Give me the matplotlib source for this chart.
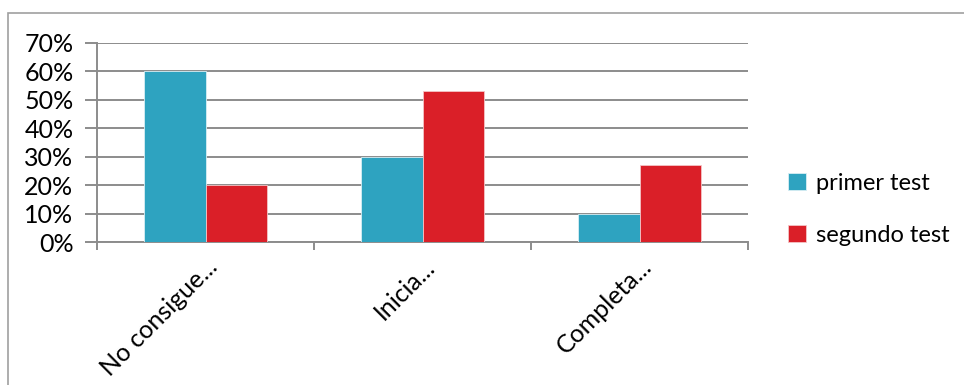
import numpy as np
import matplotlib.pyplot as plt
from matplotlib.patches import Rectangle
from matplotlib.ticker import PercentFormatter

categorias = ["No consigue...", "Inicia...", "Completa..."]
primer_test = [60, 30, 10]
segundo_test = [20, 53, 27]

plt.rcParams["font.family"] = ["Lato", "DejaVu Sans"]

fig = plt.figure(figsize=(9.64, 3.85), dpi=100)
ax = fig.add_axes([97 / 964, 1 - 242 / 385, (748 - 97) / 964, (242 - 43) / 385])

# marco gris del grafico
fig.patches.append(Rectangle((8 / 964, -0.1), 1.2, 1 - 13 / 385 + 0.1,
                             transform=fig.transFigure, fill=False,
                             edgecolor="#a0a0a0", linewidth=1.2))

x = np.arange(len(categorias))
ancho = 0.285
ax.bar(x - ancho / 2, primer_test, ancho, color="#2ea3c0", label="primer test",
       edgecolor="#d8eef4", linewidth=0.6, zorder=3)
ax.bar(x + ancho / 2, segundo_test, ancho, color="#da1f28", label="segundo test",
       edgecolor="#f4c4c6", linewidth=0.6, zorder=3)

ax.set_xlim(-0.5, 2.5)
ax.set_ylim(0, 70)
ax.set_yticks(range(0, 71, 10))
ax.yaxis.set_major_formatter(PercentFormatter(decimals=0))
ax.grid(axis="y", color="#8c8c8c", linewidth=1.4, zorder=0)

ax.set_xticks([-0.5, 0.5, 1.5, 2.5])
ax.set_xticklabels([])
ax.set_xticks(x, minor=True)
ax.set_xticklabels(categorias, minor=True, rotation=45, ha="right",
                   va="top", rotation_mode="anchor", fontsize=18)
ax.tick_params(axis="x", which="minor", length=0, pad=9)
ax.tick_params(axis="x", which="major", length=6, color="#8c8c8c", width=1.4)
ax.tick_params(axis="y", length=9, color="#8c8c8c", width=1.4, labelsize=18, pad=8)

for lado in ["top", "right"]:
    ax.spines[lado].set_visible(False)
for lado in ["left", "bottom"]:
    ax.spines[lado].set_color("#8c8c8c")
    ax.spines[lado].set_linewidth(1.4)

ax.legend(loc="center left", bbox_to_anchor=(1.044, 0.165), frameon=False,
          fontsize=17, handlelength=0.75, handleheight=0.75,
          handletextpad=0.4, labelspacing=1.3, borderpad=0)

fig.savefig("out.png", dpi=100)
